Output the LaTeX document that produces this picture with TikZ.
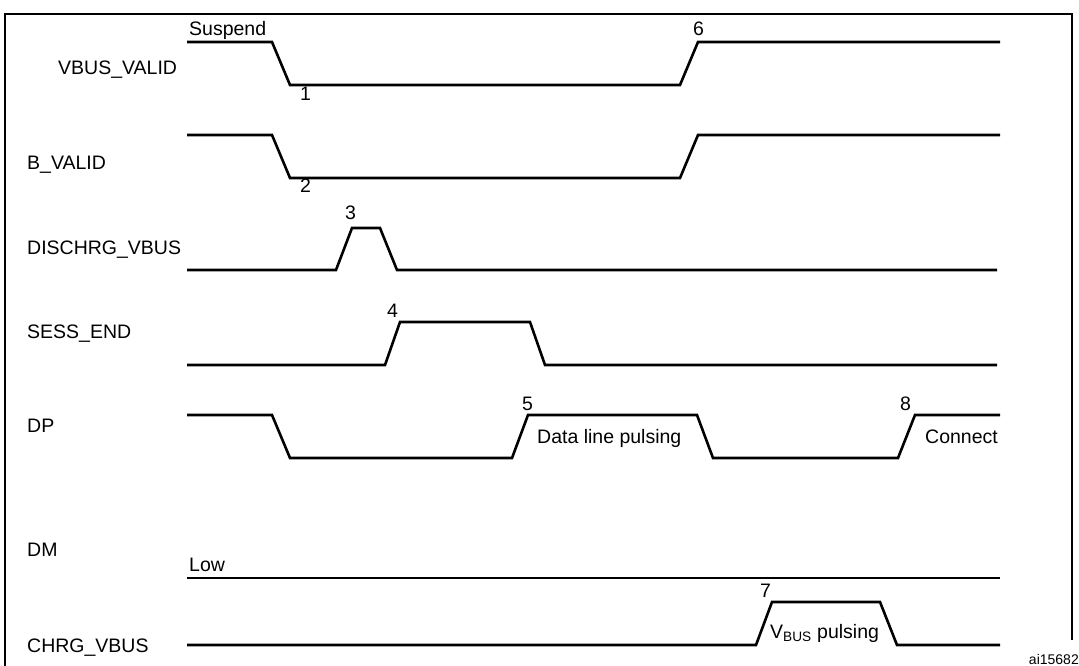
\documentclass[tikz,border=0pt]{standalone}
\usepackage{fontspec}
\setmainfont{Liberation Sans}
\begin{document}
\begin{tikzpicture}[x=1pt,y=-1pt,
  wave/.style={line width=2.6pt,line join=miter},
  sig/.style={anchor=west,font=\fontsize{19.5}{19.5}\selectfont,inner sep=0pt},
  num/.style={anchor=base west,font=\fontsize{19.5}{19.5}\selectfont,inner sep=0pt}]
\useasboundingbox (0,0) rectangle (1079,666);
\draw[line width=1.5pt] (5,680) -- (5,14) -- (1072,14) -- (1072,640);

% signal names
\node[sig] (vbus) at (58,70) {VBUS\_VALID};
\node[sig] (bval) at (27,165) {B\_VALID};
\node[sig] (dis) at (27,250) {DISCHRG\_VBUS};
\node[sig] (sess) at (27,334) {SESS\_END};
\node[sig] (dp) at (27,426) {DP};
\node[sig] (dm) at (27,550) {DM};
\node[sig] (chrg) at (27,648) {CHRG\_VBUS};

% waveforms
\draw[wave] (187,42) -- (272,42) -- (290,85) -- (680,85) -- (698,42) -- (1000,42);
\draw[wave] (187,135) -- (272,135) -- (290,178) -- (680,178) -- (698,135) -- (1000,135);
\draw[wave] (187,270) -- (336,270) -- (352,228) -- (380,228) -- (397,270) -- (997,270);
\draw[wave] (187,365) -- (385,365) -- (400,322) -- (530,322) -- (545,365) -- (997,365);
\draw[wave] (187,415) -- (272,415) -- (290,458) -- (512,458) -- (528,415) -- (697,415)
  -- (713,458) -- (898,458) -- (915,415) -- (1000,415);
\draw[wave] (187,578) -- (1000,578);
\draw[wave] (187,645) -- (756,645) -- (772,602) -- (880,602) -- (897,645) -- (1000,645);

% labels
\node[num] (susp) at (189,36) {Suspend};
\node[num] (n1) at (300,101) {1};
\node[num] (n2) at (300,193) {2};
\node[num] (n3) at (345,219) {3};
\node[num] (n4) at (387,317) {4};
\node[num] (n5) at (522,410) {5};
\node[num] (n6) at (693,36) {6};
\node[num] (n7) at (760,597) {7};
\node[num] (n8) at (900,410) {8};
\node[num] (dlp) at (537,443) {Data line pulsing};
\node[num] (conn) at (925,443) {Connect};
\node[num] (vbp) at (770,638) {V\textsubscript{BUS} pulsing};
\node[num] (low) at (189,571) {Low};
\node[anchor=base east,inner sep=0pt,font=\fontsize{14}{14}\selectfont] (fig) at (1079,664) {ai15682};
\end{tikzpicture}
\end{document}
